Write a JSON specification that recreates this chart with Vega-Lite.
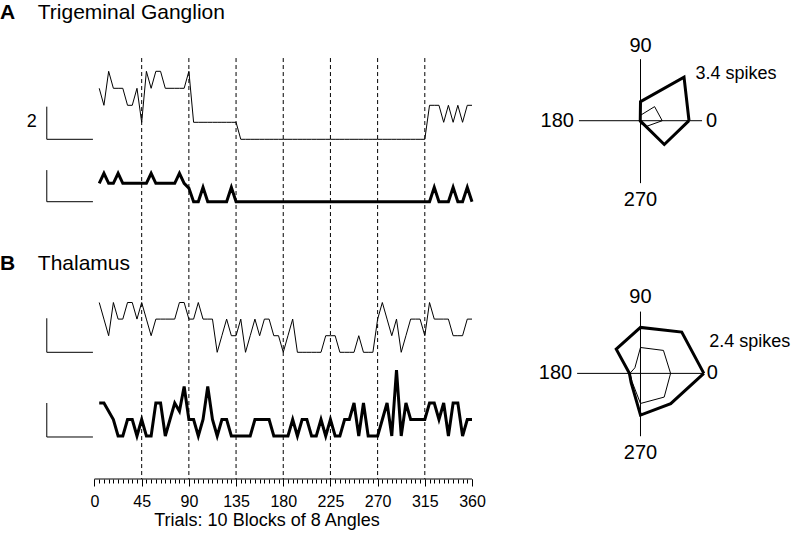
{
  "$schema": "https://vega.github.io/schema/vega-lite/v6.json",
  "width": 800,
  "height": 479,
  "autosize": "none",
  "padding": {"left": 0, "top": 0, "right": 0, "bottom": 56},
  "background": "white",
  "config": {
    "view": {"stroke": null},
    "font": "Liberation Sans",
    "text": {"font": "Liberation Sans", "color": "black"},
    "axis": {"labelFont": "Liberation Sans", "titleFont": "Liberation Sans"}
  },
  "datasets": {
    "trials": [
      {"trial":1,"deg":4.5,"tg_thin":3,"tg_thick":1.08,"th_thin":3,"th_thick":2},
      {"trial":2,"deg":9,"tg_thin":2,"tg_thick":1.67,"th_thin":2,"th_thick":2},
      {"trial":3,"deg":13.5,"tg_thin":4,"tg_thick":1.08,"th_thin":1,"th_thick":1.5},
      {"trial":4,"deg":18,"tg_thin":3,"tg_thick":1.08,"th_thin":3,"th_thick":1},
      {"trial":5,"deg":22.5,"tg_thin":3,"tg_thick":1.67,"th_thin":2,"th_thick":0},
      {"trial":6,"deg":27,"tg_thin":3,"tg_thick":1.08,"th_thin":2,"th_thick":0},
      {"trial":7,"deg":31.5,"tg_thin":2,"tg_thick":1.08,"th_thin":3,"th_thick":1},
      {"trial":8,"deg":36,"tg_thin":2,"tg_thick":1.08,"th_thin":3,"th_thick":1},
      {"trial":9,"deg":40.5,"tg_thin":3,"tg_thick":1.08,"th_thin":2,"th_thick":0},
      {"trial":10,"deg":45,"tg_thin":1,"tg_thick":1.08,"th_thin":3,"th_thick":1},
      {"trial":11,"deg":49.5,"tg_thin":4,"tg_thick":1.08,"th_thin":2,"th_thick":0},
      {"trial":12,"deg":54,"tg_thin":3,"tg_thick":1.67,"th_thin":1,"th_thick":0},
      {"trial":13,"deg":58.5,"tg_thin":4,"tg_thick":1.08,"th_thin":2,"th_thick":2},
      {"trial":14,"deg":63,"tg_thin":4,"tg_thick":1.08,"th_thin":2,"th_thick":2},
      {"trial":15,"deg":67.5,"tg_thin":3,"tg_thick":1.08,"th_thin":2,"th_thick":0},
      {"trial":16,"deg":72,"tg_thin":3,"tg_thick":1.08,"th_thin":2,"th_thick":1},
      {"trial":17,"deg":76.5,"tg_thin":3,"tg_thick":1.08,"th_thin":2,"th_thick":2},
      {"trial":18,"deg":81,"tg_thin":3,"tg_thick":1.67,"th_thin":3,"th_thick":1.5},
      {"trial":19,"deg":85.5,"tg_thin":3,"tg_thick":1.08,"th_thin":3,"th_thick":3},
      {"trial":20,"deg":90,"tg_thin":4,"tg_thick":0.8,"th_thin":2,"th_thick":1},
      {"trial":21,"deg":94.5,"tg_thin":1,"tg_thick":0,"th_thin":2,"th_thick":1},
      {"trial":22,"deg":99,"tg_thin":1,"tg_thick":0,"th_thin":3,"th_thick":0},
      {"trial":23,"deg":103.5,"tg_thin":1,"tg_thick":0.85,"th_thin":2,"th_thick":1},
      {"trial":24,"deg":108,"tg_thin":1,"tg_thick":0,"th_thin":2,"th_thick":3},
      {"trial":25,"deg":112.5,"tg_thin":1,"tg_thick":0,"th_thin":2,"th_thick":1},
      {"trial":26,"deg":117,"tg_thin":1,"tg_thick":0,"th_thin":0,"th_thick":0},
      {"trial":27,"deg":121.5,"tg_thin":1,"tg_thick":0,"th_thin":1,"th_thick":1},
      {"trial":28,"deg":126,"tg_thin":1,"tg_thick":0,"th_thin":2,"th_thick":1},
      {"trial":29,"deg":130.5,"tg_thin":1,"tg_thick":0.85,"th_thin":1,"th_thick":0},
      {"trial":30,"deg":135,"tg_thin":1,"tg_thick":0,"th_thin":1,"th_thick":0},
      {"trial":31,"deg":139.5,"tg_thin":0,"tg_thick":0,"th_thin":2,"th_thick":0},
      {"trial":32,"deg":144,"tg_thin":0,"tg_thick":0,"th_thin":0,"th_thick":0},
      {"trial":33,"deg":148.5,"tg_thin":0,"tg_thick":0,"th_thin":1,"th_thick":0},
      {"trial":34,"deg":153,"tg_thin":0,"tg_thick":0,"th_thin":2,"th_thick":1},
      {"trial":35,"deg":157.5,"tg_thin":0,"tg_thick":0,"th_thin":1,"th_thick":1},
      {"trial":36,"deg":162,"tg_thin":0,"tg_thick":0,"th_thin":2,"th_thick":1},
      {"trial":37,"deg":166.5,"tg_thin":0,"tg_thick":0,"th_thin":2,"th_thick":1},
      {"trial":38,"deg":171,"tg_thin":0,"tg_thick":0,"th_thin":1,"th_thick":0},
      {"trial":39,"deg":175.5,"tg_thin":0,"tg_thick":0,"th_thin":1,"th_thick":0},
      {"trial":40,"deg":180,"tg_thin":0,"tg_thick":0,"th_thin":0,"th_thick":0},
      {"trial":41,"deg":184.5,"tg_thin":0,"tg_thick":0,"th_thin":1,"th_thick":0},
      {"trial":42,"deg":189,"tg_thin":0,"tg_thick":0,"th_thin":2,"th_thick":1},
      {"trial":43,"deg":193.5,"tg_thin":0,"tg_thick":0,"th_thin":0,"th_thick":0},
      {"trial":44,"deg":198,"tg_thin":0,"tg_thick":0,"th_thin":0,"th_thick":1},
      {"trial":45,"deg":202.5,"tg_thin":0,"tg_thick":0,"th_thin":0,"th_thick":1},
      {"trial":46,"deg":207,"tg_thin":0,"tg_thick":0,"th_thin":0,"th_thick":0},
      {"trial":47,"deg":211.5,"tg_thin":0,"tg_thick":0,"th_thin":0,"th_thick":0},
      {"trial":48,"deg":216,"tg_thin":0,"tg_thick":0,"th_thin":0,"th_thick":1},
      {"trial":49,"deg":220.5,"tg_thin":0,"tg_thick":0,"th_thin":1,"th_thick":0},
      {"trial":50,"deg":225,"tg_thin":0,"tg_thick":0,"th_thin":1,"th_thick":1},
      {"trial":51,"deg":229.5,"tg_thin":0,"tg_thick":0,"th_thin":1,"th_thick":0},
      {"trial":52,"deg":234,"tg_thin":0,"tg_thick":0,"th_thin":0,"th_thick":0},
      {"trial":53,"deg":238.5,"tg_thin":0,"tg_thick":0,"th_thin":0,"th_thick":1},
      {"trial":54,"deg":243,"tg_thin":0,"tg_thick":0,"th_thin":0,"th_thick":1},
      {"trial":55,"deg":247.5,"tg_thin":0,"tg_thick":0,"th_thin":0,"th_thick":2},
      {"trial":56,"deg":252,"tg_thin":0,"tg_thick":0,"th_thin":1,"th_thick":0},
      {"trial":57,"deg":256.5,"tg_thin":0,"tg_thick":0,"th_thin":0,"th_thick":2},
      {"trial":58,"deg":261,"tg_thin":0,"tg_thick":0,"th_thin":0,"th_thick":0},
      {"trial":59,"deg":265.5,"tg_thin":0,"tg_thick":0,"th_thin":0,"th_thick":0},
      {"trial":60,"deg":270,"tg_thin":0,"tg_thick":0,"th_thin":2,"th_thick":0},
      {"trial":61,"deg":274.5,"tg_thin":0,"tg_thick":0,"th_thin":3,"th_thick":1},
      {"trial":62,"deg":279,"tg_thin":0,"tg_thick":0,"th_thin":2,"th_thick":2},
      {"trial":63,"deg":283.5,"tg_thin":0,"tg_thick":0,"th_thin":1,"th_thick":0},
      {"trial":64,"deg":288,"tg_thin":0,"tg_thick":0,"th_thin":2,"th_thick":4},
      {"trial":65,"deg":292.5,"tg_thin":0,"tg_thick":0,"th_thin":0,"th_thick":0},
      {"trial":66,"deg":297,"tg_thin":0,"tg_thick":0,"th_thin":1,"th_thick":2},
      {"trial":67,"deg":301.5,"tg_thin":0,"tg_thick":0,"th_thin":2,"th_thick":1},
      {"trial":68,"deg":306,"tg_thin":0,"tg_thick":0,"th_thin":2,"th_thick":1},
      {"trial":69,"deg":310.5,"tg_thin":0,"tg_thick":0,"th_thin":2,"th_thick":1},
      {"trial":70,"deg":315,"tg_thin":0,"tg_thick":0,"th_thin":1,"th_thick":1},
      {"trial":71,"deg":319.5,"tg_thin":2,"tg_thick":0,"th_thin":3,"th_thick":2},
      {"trial":72,"deg":324,"tg_thin":2,"tg_thick":0.85,"th_thin":2,"th_thick":2},
      {"trial":73,"deg":328.5,"tg_thin":2,"tg_thick":0,"th_thin":2,"th_thick":1},
      {"trial":74,"deg":333,"tg_thin":1,"tg_thick":0,"th_thin":2,"th_thick":2},
      {"trial":75,"deg":337.5,"tg_thin":2,"tg_thick":0,"th_thin":2,"th_thick":0},
      {"trial":76,"deg":342,"tg_thin":1,"tg_thick":0.85,"th_thin":1,"th_thick":2},
      {"trial":77,"deg":346.5,"tg_thin":2,"tg_thick":0,"th_thin":1,"th_thick":2},
      {"trial":78,"deg":351,"tg_thin":1,"tg_thick":0,"th_thin":1,"th_thick":0},
      {"trial":79,"deg":355.5,"tg_thin":2,"tg_thick":0.85,"th_thin":2,"th_thick":1},
      {"trial":80,"deg":360,"tg_thin":2,"tg_thick":0,"th_thin":2,"th_thick":1}
    ],
    "blocks": [{"deg":45},{"deg":90},{"deg":135},{"deg":180},{"deg":225},{"deg":270},{"deg":315}],
    "polarA": [
      {"series":"thin","angle":0,"spikes":1.2},{"series":"thin","angle":45,"spikes":1.1},{"series":"thin","angle":90,"spikes":0.3},{"series":"thin","angle":135,"spikes":0.05},{"series":"thin","angle":180,"spikes":0.05},{"series":"thin","angle":225,"spikes":0.05},{"series":"thin","angle":270,"spikes":0.15},{"series":"thin","angle":315,"spikes":0.45},{"series":"thin","angle":360,"spikes":1.2},
      {"series":"thick","angle":0,"spikes":2.68},{"series":"thick","angle":45,"spikes":3.4},{"series":"thick","angle":90,"spikes":1.05},{"series":"thick","angle":135,"spikes":0.02},{"series":"thick","angle":180,"spikes":0.02},{"series":"thick","angle":225,"spikes":0.02},{"series":"thick","angle":270,"spikes":0.02},{"series":"thick","angle":315,"spikes":1.86},{"series":"thick","angle":360,"spikes":2.68}
    ],
    "polarB": [
      {"series":"thin","angle":0,"spikes":1.14},{"series":"thin","angle":45,"spikes":1.23},{"series":"thin","angle":90,"spikes":0.98},{"series":"thin","angle":135,"spikes":0.3},{"series":"thin","angle":180,"spikes":0.4},{"series":"thin","angle":225,"spikes":0.45},{"series":"thin","angle":270,"spikes":1.14},{"series":"thin","angle":315,"spikes":1.27},{"series":"thin","angle":360,"spikes":1.14},
      {"series":"thick","angle":0,"spikes":2.4},{"series":"thick","angle":45,"spikes":2.21},{"series":"thick","angle":90,"spikes":1.74},{"series":"thick","angle":135,"spikes":1.3},{"series":"thick","angle":180,"spikes":0.42},{"series":"thick","angle":225,"spikes":0.5},{"series":"thick","angle":270,"spikes":1.58},{"series":"thick","angle":315,"spikes":1.62},{"series":"thick","angle":360,"spikes":2.4}
    ],
    "dirLabels": [{"angle":0,"label":"0"},{"angle":90,"label":"90"},{"angle":180,"label":"180"},{"angle":270,"label":"270"}]
  },
  "resolve": {"scale": {"x": "independent", "y": "independent"}, "axis": {"x": "independent", "y": "independent"}},
  "layer": [
    {
      "data": {"name": "blocks"},
      "mark": {"type": "rule", "color": "black", "strokeWidth": 1, "strokeDash": [4, 3]},
      "encoding": {
        "x": {"field": "deg", "type": "quantitative",
          "scale": {"domain": [-90.119, 672.795], "nice": false, "zero": false},
          "axis": {
            "orient": "bottom",
            "values": [0, 45, 90, 135, 180, 225, 270, 315, 360],
            "tickSize": 7,
            "tickColor": "black",
            "tickWidth": 1,
            "domain": false,
            "grid": false,
            "labelColor": "black",
            "labelFontSize": 16,
            "labelPadding": 7,
            "labelOverlap": false,
            "labelFlush": false,
            "title": "Trials: 10 Blocks of 8 Angles",
            "titleFontSize": 18,
            "titleFontWeight": "normal",
            "titleColor": "black",
            "titleX": 266.5,
            "titleAlign": "center",
            "titlePadding": 2
          }
        },
        "y": {"datum": 4.78, "scale": {"domain": [-19.98, 8.194], "nice": false, "zero": false}, "axis": null},
        "y2": {"datum": -19.98}
      }
    },
    {
      "data": {"values": [{}]},
      "mark": {"type": "rule", "color": "black", "strokeWidth": 1},
      "encoding": {
        "x": {"datum": 0,
          "scale": {"domain": [-90.119, 672.795], "nice": false, "zero": false},
          "axis": {
            "orient": "bottom",
            "values": [0,4.5,9,13.5,18,22.5,27,31.5,36,40.5,45,49.5,54,58.5,63,67.5,72,76.5,81,85.5,90,94.5,99,103.5,108,112.5,117,121.5,126,130.5,135,139.5,144,148.5,153,157.5,162,166.5,171,175.5,180,184.5,189,193.5,198,202.5,207,211.5,216,220.5,225,229.5,234,238.5,243,247.5,252,256.5,261,265.5,270,274.5,279,283.5,288,292.5,297,301.5,306,310.5,315,319.5,324,328.5,333,337.5,342,346.5,351,355.5,360],
            "tickSize": 4,
            "tickColor": "black",
            "tickWidth": 1,
            "domain": false,
            "grid": false,
            "labels": false,
            "title": null
          }
        },
        "x2": {"datum": 360},
        "y": {"datum": -19.98, "scale": {"domain": [-19.98, 8.194], "nice": false, "zero": false}, "axis": null}
      }
    },
    {
      "layer": [
        {
          "data": {"name": "trials"},
          "mark": {"type": "line", "color": "black", "strokeWidth": 1},
          "encoding": {
            "x": {"field": "deg", "type": "quantitative",
              "scale": {"domain": [-90.119, 672.795], "nice": false, "zero": false}, "axis": null},
            "y": {"field": "tg_thin", "type": "quantitative",
              "scale": {"domain": [-19.98, 8.194], "nice": false, "zero": false}, "axis": null}
          }
        },
        {
          "data": {"values": [{}]},
          "mark": {"type": "rule", "color": "black", "strokeWidth": 1},
          "encoding": {
            "x": {"datum": -45.5, "axis": null},
            "y": {"datum": 0, "axis": null},
            "y2": {"datum": 1.92}
          }
        },
        {
          "data": {"values": [{}]},
          "mark": {"type": "rule", "color": "black", "strokeWidth": 1},
          "encoding": {
            "x": {"datum": -45.5, "axis": null},
            "x2": {"datum": -1.5},
            "y": {"datum": 0, "axis": null}
          }
        },
        {
          "data": {"values": [{"label": "2"}]},
          "mark": {"type": "text", "fontSize": 18, "align": "center", "baseline": "middle"},
          "encoding": {
            "x": {"datum": -59.9, "axis": null},
            "y": {"datum": 1.035, "axis": null},
            "text": {"field": "label"}
          }
        },
        {
          "data": {"values": [{"letter": "A", "name": "Trigeminal Ganglion"}]},
          "layer": [
            {
              "mark": {"type": "text", "fontSize": 21, "fontWeight": "bold", "align": "left", "baseline": "alphabetic"},
              "encoding": {"x": {"datum": -90.119, "axis": null}, "y": {"datum": 7.1, "axis": null}, "text": {"field": "letter"}}
            },
            {
              "mark": {"type": "text", "fontSize": 21, "align": "left", "baseline": "alphabetic"},
              "encoding": {"x": {"datum": -54.07, "axis": null}, "y": {"datum": 7.1, "axis": null}, "text": {"field": "name"}}
            }
          ]
        },
        {
          "data": {"values": [{"letter": "B", "name": "Thalamus"}]},
          "layer": [
            {
              "mark": {"type": "text", "fontSize": 21, "fontWeight": "bold", "align": "left", "baseline": "alphabetic"},
              "encoding": {"x": {"datum": -90.119, "axis": null}, "y": {"datum": -7.69, "axis": null}, "text": {"field": "letter"}}
            },
            {
              "mark": {"type": "text", "fontSize": 21, "align": "left", "baseline": "alphabetic"},
              "encoding": {"x": {"datum": -54.07, "axis": null}, "y": {"datum": -7.69, "axis": null}, "text": {"field": "name"}}
            }
          ]
        }
      ]
    },
    {
      "layer": [
        {
          "data": {"name": "trials"},
          "mark": {"type": "line", "color": "black", "strokeWidth": 3},
          "encoding": {
            "x": {"field": "deg", "type": "quantitative", "scale": {"domain": [-90.119, 672.795], "nice": false, "zero": false}, "axis": null},
            "y": {"field": "tg_thick", "type": "quantitative", "scale": {"domain": [-16.31, 11.865], "nice": false, "zero": false}, "axis": null}
          }
        },
        {
          "data": {"values": [{}]},
          "mark": {"type": "rule", "color": "black", "strokeWidth": 1},
          "encoding": {"x": {"datum": -45.5, "axis": null}, "y": {"datum": 0, "axis": null}, "y2": {"datum": 1.86}}
        },
        {
          "data": {"values": [{}]},
          "mark": {"type": "rule", "color": "black", "strokeWidth": 1},
          "encoding": {"x": {"datum": -45.5, "axis": null}, "x2": {"datum": -1.5}, "y": {"datum": 0, "axis": null}}
        }
      ]
    },
    {
      "layer": [
        {
          "data": {"name": "trials"},
          "mark": {"type": "line", "color": "black", "strokeWidth": 1},
          "encoding": {
            "x": {"field": "deg", "type": "quantitative", "scale": {"domain": [-90.119, 672.795], "nice": false, "zero": false}, "axis": null},
            "y": {"field": "th_thin", "type": "quantitative", "scale": {"domain": [-7.632, 21.223], "nice": false, "zero": false}, "axis": null}
          }
        },
        {
          "data": {"values": [{}]},
          "mark": {"type": "rule", "color": "black", "strokeWidth": 1},
          "encoding": {"x": {"datum": -45.5, "axis": null}, "y": {"datum": 0, "axis": null}, "y2": {"datum": 2.05}}
        },
        {
          "data": {"values": [{}]},
          "mark": {"type": "rule", "color": "black", "strokeWidth": 1},
          "encoding": {"x": {"datum": -45.5, "axis": null}, "x2": {"datum": -1.5}, "y": {"datum": 0, "axis": null}}
        }
      ]
    },
    {
      "layer": [
        {
          "data": {"name": "trials"},
          "mark": {"type": "line", "color": "black", "strokeWidth": 3},
          "encoding": {
            "x": {"field": "deg", "type": "quantitative", "scale": {"domain": [-90.119, 672.795], "nice": false, "zero": false}, "axis": null},
            "y": {"field": "th_thick", "type": "quantitative", "scale": {"domain": [-2.606, 26.424], "nice": false, "zero": false}, "axis": null}
          }
        },
        {
          "data": {"values": [{}]},
          "mark": {"type": "rule", "color": "black", "strokeWidth": 1},
          "encoding": {"x": {"datum": -45.5, "axis": null}, "y": {"datum": -0.06, "axis": null}, "y2": {"datum": 2.0}}
        },
        {
          "data": {"values": [{}]},
          "mark": {"type": "rule", "color": "black", "strokeWidth": 1},
          "encoding": {"x": {"datum": -45.5, "axis": null}, "x2": {"datum": -1.5}, "y": {"datum": -0.06, "axis": null}}
        }
      ]
    },
    {
      "layer": [
        {
          "data": {"name": "polarA"},
          "transform": [
            {"filter": "datum.series === 'thin'"},
            {"calculate": "datum.spikes * cos(datum.angle * PI / 180)", "as": "px"},
            {"calculate": "datum.spikes * sin(datum.angle * PI / 180)", "as": "py"}
          ],
          "mark": {"type": "line", "color": "black", "strokeWidth": 1},
          "encoding": {
            "x": {"field": "px", "type": "quantitative", "scale": {"domain": [-35.387, 8.812], "nice": false, "zero": false}, "axis": null},
            "y": {"field": "py", "type": "quantitative", "scale": {"domain": [-19.796, 6.669], "nice": false, "zero": false}, "axis": null},
            "order": {"field": "angle", "type": "quantitative"}
          }
        },
        {
          "data": {"values": [{}]},
          "mark": {"type": "rule", "color": "black", "strokeWidth": 1},
          "encoding": {"x": {"datum": -3.4, "axis": null}, "x2": {"datum": 3.4}, "y": {"datum": 0, "axis": null}}
        },
        {
          "data": {"values": [{}]},
          "mark": {"type": "rule", "color": "black", "strokeWidth": 1},
          "encoding": {"x": {"datum": 0, "axis": null}, "y": {"datum": -3.45, "axis": null}, "y2": {"datum": 3.4}}
        },
        {
          "data": {"name": "polarA"},
          "transform": [
            {"filter": "datum.series === 'thick'"},
            {"calculate": "datum.spikes * cos(datum.angle * PI / 180)", "as": "px"},
            {"calculate": "datum.spikes * sin(datum.angle * PI / 180)", "as": "py"}
          ],
          "mark": {"type": "line", "color": "black", "strokeWidth": 3},
          "encoding": {
            "x": {"field": "px", "type": "quantitative", "axis": null},
            "y": {"field": "py", "type": "quantitative", "axis": null},
            "order": {"field": "angle", "type": "quantitative"}
          }
        },
        {
          "data": {"name": "dirLabels"},
          "transform": [
            {"calculate": "3.4 * cos(datum.angle * PI / 180)", "as": "lx"},
            {"calculate": "3.4 * sin(datum.angle * PI / 180)", "as": "ly"}
          ],
          "mark": {"type": "text", "fontSize": 20, "baseline": "middle",
            "align": {"expr": "datum.angle === 0 ? 'left' : datum.angle === 180 ? 'right' : 'center'"},
            "dx": {"expr": "datum.angle === 0 ? 4 : datum.angle === 180 ? -5 : 0"},
            "dy": {"expr": "datum.angle === 90 ? -13 : datum.angle === 270 ? 18 : 0"}},
          "encoding": {
            "x": {"field": "lx", "type": "quantitative", "axis": null},
            "y": {"field": "ly", "type": "quantitative", "axis": null},
            "text": {"field": "label"}
          }
        },
        {
          "data": {"values": [{"label": "3.4 spikes"}]},
          "mark": {"type": "text", "fontSize": 18, "align": "left", "baseline": "middle"},
          "encoding": {"x": {"datum": 3.04, "axis": null}, "y": {"datum": 2.58, "axis": null}, "text": {"field": "label"}}
        }
      ]
    },
    {
      "layer": [
        {
          "data": {"name": "polarB"},
          "transform": [
            {"filter": "datum.series === 'thin'"},
            {"calculate": "datum.spikes * cos(datum.angle * PI / 180)", "as": "px"},
            {"calculate": "datum.spikes * sin(datum.angle * PI / 180)", "as": "py"}
          ],
          "mark": {"type": "line", "color": "black", "strokeWidth": 1},
          "encoding": {
            "x": {"field": "px", "type": "quantitative", "scale": {"domain": [-24.261, 6.042], "nice": false, "zero": false}, "axis": null},
            "y": {"field": "py", "type": "quantitative", "scale": {"domain": [-4.0, 14.14], "nice": false, "zero": false}, "axis": null},
            "order": {"field": "angle", "type": "quantitative"}
          }
        },
        {
          "data": {"values": [{}]},
          "mark": {"type": "rule", "color": "black", "strokeWidth": 1},
          "encoding": {"x": {"datum": -2.4, "axis": null}, "x2": {"datum": 2.35}, "y": {"datum": 0, "axis": null}}
        },
        {
          "data": {"values": [{}]},
          "mark": {"type": "rule", "color": "black", "strokeWidth": 1},
          "encoding": {"x": {"datum": 0, "axis": null}, "y": {"datum": -2.38, "axis": null}, "y2": {"datum": 2.34}}
        },
        {
          "data": {"name": "polarB"},
          "transform": [
            {"filter": "datum.series === 'thick'"},
            {"calculate": "datum.spikes * cos(datum.angle * PI / 180)", "as": "px"},
            {"calculate": "datum.spikes * sin(datum.angle * PI / 180)", "as": "py"}
          ],
          "mark": {"type": "line", "color": "black", "strokeWidth": 3},
          "encoding": {
            "x": {"field": "px", "type": "quantitative", "axis": null},
            "y": {"field": "py", "type": "quantitative", "axis": null},
            "order": {"field": "angle", "type": "quantitative"}
          }
        },
        {
          "data": {"name": "dirLabels"},
          "transform": [
            {"calculate": "2.4 * cos(datum.angle * PI / 180)", "as": "lx"},
            {"calculate": "2.4 * sin(datum.angle * PI / 180)", "as": "ly"}
          ],
          "mark": {"type": "text", "fontSize": 20, "baseline": "middle",
            "align": {"expr": "datum.angle === 0 ? 'left' : datum.angle === 180 ? 'right' : 'center'"},
            "dx": {"expr": "datum.angle === 0 ? 3 : datum.angle === 180 ? -5 : 0"},
            "dy": {"expr": "datum.angle === 90 ? -13 : datum.angle === 270 ? 16 : 0"}},
          "encoding": {
            "x": {"field": "lx", "type": "quantitative", "axis": null},
            "y": {"field": "ly", "type": "quantitative", "axis": null},
            "text": {"field": "label"}
          }
        },
        {
          "data": {"values": [{"label": "2.4 spikes"}]},
          "mark": {"type": "text", "fontSize": 18, "align": "left", "baseline": "middle"},
          "encoding": {"x": {"datum": 2.6, "axis": null}, "y": {"datum": 1.2, "axis": null}, "text": {"field": "label"}}
        }
      ]
    }
  ]
}
